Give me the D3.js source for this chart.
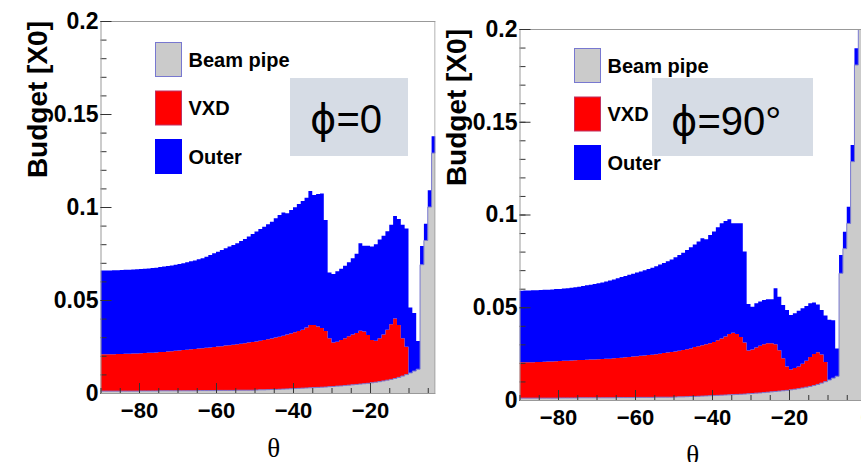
<!DOCTYPE html>
<html>
<head>
<meta charset="utf-8">
<script src="https://cdn.jsdelivr.net/npm/d3@7"></script>
<style>
  body { margin: 0; background: #fff; }
  svg { display: block; }
  .axis text { font-family: "Liberation Sans", Arial, sans-serif; font-weight: bold; fill: #000; }
  .axis line { stroke: #333; }
  .axis path { stroke: #999; }
</style>
</head>
<body>
<svg id="chart" width="861" height="462"></svg>
<script>
// 1-degree bins in theta, first bin starts at -90
const firstBin = -90;
const legendNames = ['Beam pipe', 'VXD', 'Outer'];
const legendKeys = ['beam', 'vxd', 'outer'];
const legendColors = ['#cbcbcb', '#ff0000', '#0000ff'];
const yTicks = [0, 0.05, 0.1, 0.15, 0.2];
const xTicks = [-80, -60, -40, -20, 0];

// phi = 0, bins -90 .. -4
const phi0Beam = [
  0.0010,0.0010,0.0010,0.0010,0.0010,0.0010,0.0010,0.0010,0.0010,0.0010,
  0.0011,0.0011,0.0011,0.0011,0.0011,0.0012,0.0012,0.0012,0.0012,0.0012,
  0.0012,0.0012,0.0012,0.0012,0.0012,0.0013,0.0013,0.0013,0.0013,0.0013,
  0.0014,0.0014,0.0014,0.0014,0.0014,0.0015,0.0015,0.0015,0.0015,0.0015,
  0.0016,0.0017,0.0017,0.0018,0.0019,0.0019,0.0020,0.0021,0.0022,0.0023,
  0.0024,0.0025,0.0026,0.0027,0.0028,0.0029,0.0030,0.0031,0.0032,0.0034,
  0.0035,0.0037,0.0038,0.0040,0.0042,0.0044,0.0046,0.0048,0.0050,0.0052,
  0.0055,0.0058,0.0061,0.0065,0.0069,0.0073,0.0078,0.0084,0.0091,0.0099,
  0.0108,0.0118,0.0128,0.0690,0.0820,0.1000,0.1290
];
const phi0Vxd = [
  0.0198,0.0198,0.0199,0.0199,0.0200,0.0200,0.0201,0.0201,0.0202,0.0203,
  0.0203,0.0204,0.0205,0.0206,0.0207,0.0208,0.0209,0.0211,0.0213,0.0215,
  0.0217,0.0219,0.0221,0.0223,0.0225,0.0226,0.0228,0.0230,0.0232,0.0234,
  0.0236,0.0238,0.0241,0.0243,0.0246,0.0247,0.0250,0.0253,0.0256,0.0259,
  0.0261,0.0264,0.0268,0.0271,0.0274,0.0279,0.0283,0.0287,0.0292,0.0297,
  0.0302,0.0308,0.0314,0.0325,0.0338,0.0337,0.0327,0.0319,0.0301,0.0260,
  0.0236,0.0239,0.0247,0.0254,0.0263,0.0271,0.0276,0.0287,0.0280,0.0260,
  0.0230,0.0223,0.0234,0.0250,0.0271,0.0297,0.0323,0.0281,0.0203,0.0150,
  0,0,0,0,0,0,0
];
const phi0Outer = [
  0.0450,0.0451,0.0450,0.0451,0.0450,0.0451,0.0451,0.0452,0.0452,0.0452,
  0.0453,0.0453,0.0454,0.0455,0.0456,0.0457,0.0459,0.0460,0.0461,0.0463,
  0.0465,0.0467,0.0470,0.0473,0.0476,0.0480,0.0484,0.0490,0.0497,0.0505,
  0.0510,0.0517,0.0523,0.0530,0.0536,0.0543,0.0552,0.0560,0.0570,0.0581,
  0.0591,0.0601,0.0609,0.0618,0.0628,0.0642,0.0654,0.0663,0.0652,0.0664,
  0.0672,0.0683,0.0692,0.0698,0.0720,0.0698,0.0713,0.0723,0.0597,0.0354,
  0.0369,0.0379,0.0383,0.0390,0.0398,0.0409,0.0426,0.0470,0.0461,0.0479,
  0.0503,0.0519,0.0530,0.0530,0.0530,0.0535,0.0551,0.0570,0.0611,0.0636,
  0.0352,0.0312,0.0152,0.0100,0.0090,0.0090,0.0090
];

// phi = 90 deg, bins -90 .. -2
const phi90Beam = [
  0.0010,0.0010,0.0010,0.0010,0.0010,0.0010,0.0010,0.0010,0.0010,0.0010,
  0.0011,0.0011,0.0011,0.0011,0.0011,0.0012,0.0012,0.0012,0.0012,0.0012,
  0.0012,0.0012,0.0012,0.0012,0.0012,0.0013,0.0013,0.0013,0.0013,0.0013,
  0.0014,0.0014,0.0014,0.0014,0.0014,0.0015,0.0015,0.0015,0.0015,0.0015,
  0.0016,0.0017,0.0017,0.0018,0.0019,0.0019,0.0020,0.0021,0.0022,0.0023,
  0.0024,0.0025,0.0026,0.0027,0.0028,0.0029,0.0030,0.0031,0.0032,0.0034,
  0.0035,0.0037,0.0038,0.0040,0.0042,0.0044,0.0046,0.0048,0.0050,0.0052,
  0.0055,0.0058,0.0061,0.0065,0.0069,0.0073,0.0078,0.0084,0.0091,0.0099,
  0.0108,0.0118,0.0128,0.0683,0.0816,0.0952,0.1285,0.1806,0.2600
];
const phi90Vxd = [
  0.0193,0.0193,0.0194,0.0194,0.0195,0.0195,0.0196,0.0197,0.0198,0.0199,
  0.0199,0.0200,0.0201,0.0202,0.0203,0.0203,0.0204,0.0205,0.0206,0.0207,
  0.0208,0.0209,0.0210,0.0211,0.0213,0.0213,0.0215,0.0217,0.0219,0.0221,
  0.0222,0.0224,0.0226,0.0228,0.0230,0.0232,0.0235,0.0238,0.0241,0.0244,
  0.0246,0.0249,0.0253,0.0256,0.0259,0.0267,0.0270,0.0274,0.0278,0.0283,
  0.0288,0.0297,0.0306,0.0315,0.0328,0.0333,0.0326,0.0309,0.0278,0.0233,
  0.0237,0.0246,0.0254,0.0260,0.0264,0.0262,0.0254,0.0220,0.0175,0.0128,
  0.0110,0.0114,0.0119,0.0130,0.0143,0.0159,0.0170,0.0174,0.0154,0.0106,
  0,0,0,0,0,0,0,0,0
];
const phi90Outer = [
  0.0386,0.0387,0.0386,0.0387,0.0387,0.0388,0.0388,0.0388,0.0388,0.0389,
  0.0389,0.0390,0.0391,0.0392,0.0394,0.0396,0.0398,0.0401,0.0403,0.0406,
  0.0409,0.0413,0.0417,0.0421,0.0425,0.0430,0.0435,0.0439,0.0443,0.0447,
  0.0451,0.0455,0.0459,0.0464,0.0469,0.0474,0.0480,0.0486,0.0492,0.0499,
  0.0507,0.0515,0.0524,0.0534,0.0545,0.0552,0.0564,0.0577,0.0566,0.0583,
  0.0596,0.0609,0.0621,0.0623,0.0618,0.0591,0.0597,0.0613,0.0490,0.0251,
  0.0231,0.0239,0.0239,0.0239,0.0237,0.0237,0.0302,0.0289,0.0287,0.0305,
  0.0293,0.0295,0.0301,0.0299,0.0295,0.0290,0.0277,0.0257,0.0240,0.0250,
  0.0325,0.0312,0.0149,0.0099,0.0091,0.0090,0.0090,0.0090,0.0090
];

const panels = [
  { id: 'phi0', beam: phi0Beam, vxd: phi0Vxd, outer: phi0Outer, note: ['ϕ', '=0'],
    left: 100.5, zero: 447, top: 21, bottom: 393, clipRight: 435.5, edge: true,
    legendTop: 42.5, titleX: 47, noteBox: [290, 78, 118, 78], noteX: 310, noteY: 133 },
  { id: 'phi90', beam: phi90Beam, vxd: phi90Vxd, outer: phi90Outer, note: ['ϕ', '=90°'],
    left: 519.5, zero: 866, top: 29, bottom: 400, clipRight: 861, edge: false,
    legendTop: 48.5, titleX: 466, noteBox: [652, 78, 161, 78], noteX: 671, noteY: 135 }
];

const svg = d3.select('#chart');
svg.append('rect').attr('width', 861).attr('height', 462).attr('fill', '#fff');
const defs = svg.append('defs');

function drawPanel(p) {
  const x = d3.scaleLinear().domain([-90, 0]).range([p.left, p.zero]);
  const y = d3.scaleLinear().domain([0, 0.2]).range([p.bottom, p.top]);

  defs.append('clipPath').attr('id', p.id + '-panel')
    .append('rect').attr('x', 0).attr('y', 0).attr('width', p.clipRight).attr('height', 462);
  defs.append('clipPath').attr('id', p.id + '-plot')
    .append('rect').attr('x', p.left).attr('y', p.top)
    .attr('width', p.clipRight - p.left).attr('height', p.bottom - p.top);

  const g = svg.append('g').attr('clip-path', `url(#${p.id}-panel)`);

  // stacked histogram
  const bins = p.beam.map((b, k) => ({ theta: firstBin + k, beam: b, vxd: p.vxd[k], outer: p.outer[k] }));
  const last = bins[bins.length - 1];
  bins.push({ ...last, theta: last.theta + 1 });
  const series = d3.stack().keys(legendKeys)(bins);

  const area = d3.area()
    .curve(d3.curveStepAfter)
    .x(d => x(d.data.theta))
    .y0(d => y(d[0]))
    .y1(d => y(d[1]));

  const plot = g.append('g').attr('clip-path', `url(#${p.id}-plot)`);
  plot.selectAll('path.layer')
    .data(series)
    .join('path')
    .attr('class', 'layer')
    .attr('fill', (d, i) => legendColors[i])
    .attr('d', area);

  // beam pipe outline
  plot.append('path')
    .datum(series[0])
    .attr('fill', 'none')
    .attr('stroke', '#7878d0')
    .attr('stroke-width', 1)
    .attr('d', d3.line().curve(d3.curveStepAfter).x(d => x(d.data.theta)).y(d => y(d[1])));

  // frame
  g.append('line').attr('x1', p.left).attr('x2', p.clipRight).attr('y1', p.top + 0.5).attr('y2', p.top + 0.5)
    .attr('stroke', '#999');
  if (p.edge) {
    g.append('line').attr('x1', p.clipRight - 0.5).attr('x2', p.clipRight - 0.5)
      .attr('y1', p.top).attr('y2', p.bottom).attr('stroke', '#999');
  }

  // y axis
  g.append('g').attr('class', 'axis')
    .attr('transform', `translate(${p.left},0)`)
    .call(d3.axisLeft(y).tickValues(d3.range(0, 0.2001, 0.01)).tickSizeInner(-6).tickSizeOuter(0).tickFormat(''))
    .call(a => a.select('.domain').remove());
  g.append('g').attr('class', 'axis')
    .attr('transform', `translate(${p.left},0)`)
    .call(d3.axisLeft(y).tickValues(yTicks).tickSizeInner(-11).tickSizeOuter(0).tickPadding(2)
      .tickFormat(d => String(+d.toFixed(2))))
    .call(a => a.selectAll('text').attr('font-size', 23));

  // x axis
  g.append('g').attr('class', 'axis')
    .attr('transform', `translate(0,${p.bottom})`)
    .call(d3.axisBottom(x).tickValues(d3.range(-90, 1, 5)).tickSizeInner(-5).tickSizeOuter(0).tickFormat(''))
    .call(a => a.select('.domain').remove());
  g.append('g').attr('class', 'axis')
    .attr('transform', `translate(0,${p.bottom})`)
    .call(d3.axisBottom(x).tickValues(xTicks).tickSizeInner(-10).tickSizeOuter(0).tickPadding(9))
    .call(a => a.selectAll('text').attr('font-size', 22));

  // axis titles
  g.append('text')
    .attr('transform', `translate(${p.titleX},${p.top}) rotate(-90)`)
    .attr('text-anchor', 'end')
    .attr('font-family', '"Liberation Sans", Arial, sans-serif')
    .attr('font-weight', 'bold')
    .attr('font-size', 28)
    .text('Budget [X0]');
  g.append('text')
    .attr('x', x(-45))
    .attr('y', p.bottom + 64)
    .attr('text-anchor', 'middle')
    .attr('font-family', '"Liberation Serif", "Times New Roman", serif')
    .attr('font-size', 27)
    .text('θ');

  // legend
  const lx = p.left + 55;
  const legend = g.append('g');
  legendNames.forEach((name, i) => {
    const ly = p.legendTop + i * 48.5;
    legend.append('rect')
      .attr('x', lx).attr('y', ly).attr('width', 26).attr('height', 34)
      .attr('fill', legendColors[i])
      .attr('stroke', i === 0 ? '#7878d0' : i === 1 ? '#c03060' : '#0000ff')
      .attr('stroke-width', 1);
    legend.append('text')
      .attr('x', lx + 33).attr('y', ly + 17 + 7)
      .attr('font-family', '"Liberation Sans", Arial, sans-serif')
      .attr('font-weight', 'bold')
      .attr('font-size', 20)
      .text(name);
  });

  // phi note box
  const [bx, by, bw, bh] = p.noteBox;
  g.append('rect').attr('x', bx).attr('y', by).attr('width', bw).attr('height', bh).attr('fill', '#d6dce5');
  const note = g.append('text')
    .attr('x', p.noteX).attr('y', p.noteY)
    .attr('font-family', '"Liberation Sans", Arial, sans-serif')
    .attr('font-size', 40);
  note.append('tspan').attr('font-family', '"DejaVu Sans", sans-serif').text(p.note[0]);
  note.append('tspan').text(p.note[1]);
}

panels.forEach(drawPanel);
</script>
</body>
</html>
